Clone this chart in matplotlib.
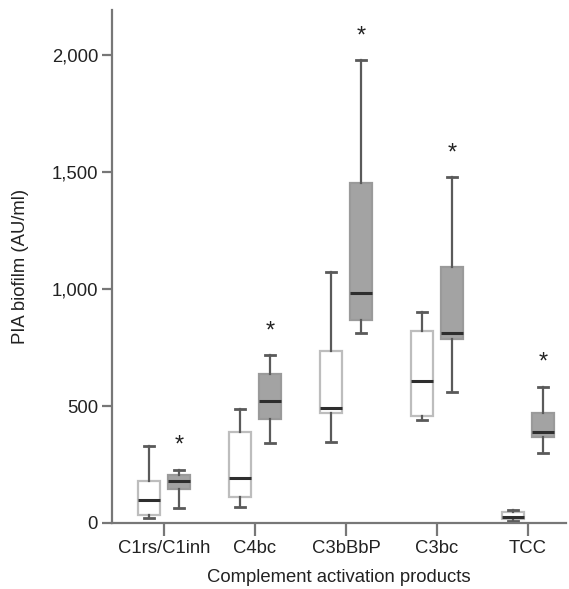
import numpy as np
import matplotlib
matplotlib.use('Agg')
import matplotlib.pyplot as plt
from matplotlib.ticker import FuncFormatter

plt.rcParams['font.family'] = ['Liberation Sans', 'DejaVu Sans']

# Complement activation products
categories = ['C1rs/C1inh', 'C4bc', 'C3bBbP', 'C3bc', 'TCC']

# white boxes (control)  -- whisker low, q1, median, q3, whisker high
ctrl_whislo = [23, 70, 347, 439, 7]
ctrl_q1 = [35, 110, 469, 459, 16]
ctrl_med = [98, 191, 493, 608, 24]
ctrl_q3 = [181, 389, 734, 821, 46]
ctrl_whishi = [329, 489, 1071, 900, 57]

# gray boxes
trt_whislo = [65, 342, 812, 559, 298]
trt_q1 = [144, 444, 868, 788, 369]
trt_med = [178, 520, 984, 811, 389]
trt_q3 = [205, 638, 1452, 1093, 469]
trt_whishi = [228, 717, 1977, 1477, 583]

# all gray boxes marked significant
significant = [True, True, True, True, True]

fig = plt.figure(figsize=(5.69, 5.89), dpi=100)
ax = fig.add_axes([0.1968, 0.1121, 0.798, 0.871])

x = np.arange(1, len(categories) + 1)
off = 0.165
width = 0.235


def stats(lo, q1, med, q3, hi):
    return [dict(whislo=a, q1=b, med=c, q3=d, whishi=e, fliers=[])
            for a, b, c, d, e in zip(lo, q1, med, q3, hi)]


whisk = dict(color='#5a5a5a', linewidth=1.6)
cap = dict(color='#5a5a5a', linewidth=2.0)
med = dict(color='#2e2e2e', linewidth=2.2)

ax.bxp(stats(ctrl_whislo, ctrl_q1, ctrl_med, ctrl_q3, ctrl_whishi),
       positions=x - off, widths=width, patch_artist=True, showfliers=False,
       boxprops=dict(facecolor='white', edgecolor='#bdbdbd', linewidth=1.6),
       whiskerprops=whisk, capprops=cap, medianprops=med, capwidths=0.11)
ax.bxp(stats(trt_whislo, trt_q1, trt_med, trt_q3, trt_whishi),
       positions=x + off, widths=width, patch_artist=True, showfliers=False,
       boxprops=dict(facecolor='#a3a3a3', edgecolor='#9a9a9a', linewidth=1.6),
       whiskerprops=whisk, capprops=cap, medianprops=med, capwidths=0.11)

for xi, hi, sig in zip(x, trt_whishi, significant):
    if sig:
        ax.text(xi + off, hi + 55, '*', ha='center', va='bottom', fontsize=17,
                color='#222222')

ax.set_xlim(0.429, 5.42)
ax.set_ylim(0, 2193)
ax.set_xticks(x)
ax.set_xticklabels(categories)
ax.set_yticks([0, 500, 1000, 1500, 2000])
ax.yaxis.set_major_formatter(FuncFormatter(lambda v, p: f'{int(v):,}'))

for s in ['top', 'right']:
    ax.spines[s].set_visible(False)
for s in ['left', 'bottom']:
    ax.spines[s].set_color('#777777')
    ax.spines[s].set_linewidth(1.6)
ax.tick_params(axis='both', colors='#777777', labelcolor='#222222',
               labelsize=13.3, width=1.6)
ax.tick_params(axis='y', length=7, pad=3)
ax.tick_params(axis='x', length=9, pad=3)

ax.set_xlabel('Complement activation products', fontsize=13.3,
              color='#222222', labelpad=9)
ax.set_ylabel('PIA biofilm (AU/ml)', fontsize=13.3, color='#222222',
              labelpad=16)

fig.savefig('out.png', dpi=100)
